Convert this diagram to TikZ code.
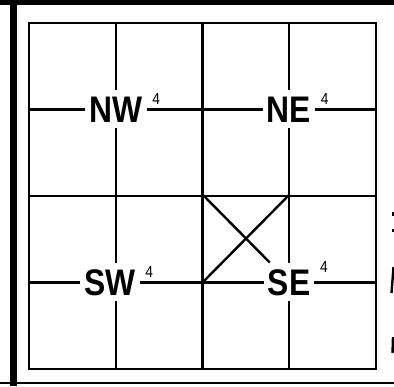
\documentclass[tikz,border=0pt]{standalone}
\usepackage{fontspec}
\newfontfamily\gridfont[FakeStretch=0.86]{Liberation Sans}
\usetikzlibrary{positioning}

\tikzset{
  cell/.style={line width=1.2pt},
  dirlbl/.style={fill=white,inner xsep=2pt,inner ysep=3pt,
    text height=13pt,text depth=0pt,
    font=\gridfont\bfseries\fontsize{18.5}{19}\selectfont},
  suplbl/.style={inner sep=0pt,anchor=north west,
    font=\gridfont\fontsize{8}{9}\selectfont},
}

\begin{document}
\begin{tikzpicture}[x=0.5pt,y=-0.5pt]
  \useasboundingbox (0,0) rectangle (394,386);
  % page edges
  \fill (0,0) rectangle (394,5);
  \fill (10,0) rectangle (17,386);
  \draw[line width=1pt] (0,383) -- (394,383);
  % grid
  \draw[cell] (29,23) rectangle (376,369);
  \foreach \i in {1,2,3} {
    \draw[cell] (29+86.75*\i,23) -- (29+86.75*\i,369);
    \draw[cell] (29,23+86.5*\i) -- (376,23+86.5*\i);
  }
  % quadrants
  \node[dirlbl] (nw) at (116,109) {NW};
  \node[dirlbl] (ne) at (289,109) {NE};
  \node[dirlbl,xshift=-3pt] (sw) at (116,282) {SW};
  \node[dirlbl] (se) at (289,282) {SE};
  \node[suplbl] (nw4) at ([xshift=2.5pt,yshift=-1.5pt]nw.north east) {4};
  \node[suplbl] (ne4) at ([xshift=2.5pt,yshift=-1.5pt]ne.north east) {4};
  \node[suplbl] (sw4) at ([xshift=2.5pt,yshift=-1.5pt]sw.north east) {4};
  \node[suplbl] (se4) at ([xshift=2.5pt,yshift=1pt]se.north east) {4};
  % cross
  \draw[cell] (203,282) -- (289,195);
  \draw[cell] (203,195) -- (se);
  % cut-off marks at the right edge
  \fill (392,212) rectangle (394,216);
  \fill (392,229) rectangle (394,232);
  \draw[line width=1.2pt] (393.5,267) -- (391.5,293);
  \draw[line width=1.2pt] (393,337) -- (392.5,353);
\end{tikzpicture}
\end{document}
